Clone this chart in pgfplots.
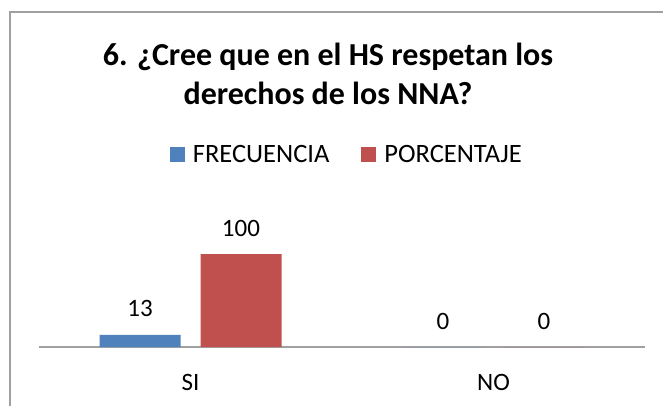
\documentclass[border=0pt]{standalone}
\usepackage{pgfplots}
\pgfplotsset{compat=1.18}
\usepackage{fontspec}
\setmainfont{Carlito}
\definecolor{xlblue}{HTML}{4F81BD}
\definecolor{xlred}{HTML}{C0504D}
\definecolor{xlgrid}{HTML}{A0A0A0}
\begin{document}
\begin{tikzpicture}
\useasboundingbox (0pt,0pt) rectangle (663pt,-406pt);
% chart area border (only top and left are visible)
\draw[xlgrid, line width=1.5pt] (663pt,-12pt) -- (10pt,-12pt) -- (10pt,-406pt);
% title, two lines
\node[anchor=base, inner sep=0pt, font=\fontsize{32}{38}\selectfont\bfseries] at (328pt,-66pt)
  {6. ¿Cree que en el HS respetan los};
\node[anchor=base, inner sep=0pt, font=\fontsize{32}{38}\selectfont\bfseries] at (328pt,-105pt)
  {derechos de los NNA?};
\begin{axis}[
    at={(39pt,-347pt)}, anchor=south west,
    scale only axis,
    width=606pt, height=186pt,
    ybar=20pt, bar width=81pt,
    xmin=-0.5, xmax=1.5,
    ymin=0, ymax=200,
    xtick={0,1}, xticklabels={SI,NO},
    ytick=\empty,
    axis y line=none,
    axis x line*=bottom,
    x axis line style={-, draw=xlgrid, line width=1.5pt},
    major tick length=0pt,
    font=\fontsize{25}{30}\selectfont,
    xticklabel style={anchor=base, yshift=-43pt},
    /pgf/number format/assume math mode=true,
    nodes near coords,
    nodes near coords style={anchor=base, yshift=18pt, font=\fontsize{25}{30}\selectfont},
    legend columns=2,
    legend style={draw=none, fill=none, at={(0.508,1.035)}, anchor=center,
      font=\fontsize{26.5}{30}\selectfont,
      /tikz/every odd column/.append style={column sep=6pt},
      /tikz/every even column/.append style={column sep=30pt}},
    legend image code/.code={\fill[#1] (0pt,-7.5pt) rectangle (15pt,7.5pt);},
]
\addplot[fill=xlblue, draw=none] coordinates {(0,13) (1,0)};
\addlegendentry{FRECUENCIA}
\addplot[fill=xlred, draw=none] coordinates {(0,100) (1,0)};
\addlegendentry{PORCENTAJE}
\end{axis}
\end{tikzpicture}
\end{document}
